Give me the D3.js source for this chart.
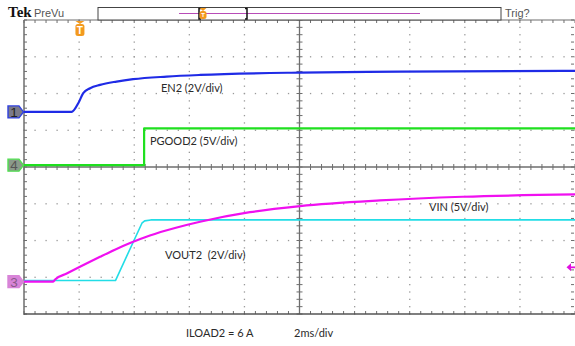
<!DOCTYPE html>
<html><head><meta charset="utf-8">
<script src="https://cdn.jsdelivr.net/npm/d3@7"></script>
<style>body{margin:0;background:#fff}svg{display:block}</style>
</head><body><svg id="c" width="575" height="346"></svg>
<script>
// ---- data (time in ms, 2 ms/div; values in volts) ----
const en2Time  = [0, 1.73, 1.97, 2.15, 2.40, 2.76, 3.36, 3.96, 5.18, 6.39, 10.02, 13.65, 20];
const en2Volts = [0, 0, 0.47, 1.02, 1.29, 1.47, 1.65, 1.78, 1.92, 2.01, 2.14, 2.19, 2.23];
const pgoodTime  = [0, 4.36, 4.36, 20];
const pgoodVolts = [0, 0, 5.0, 5.0];
const vinTime  = [0, 1.06, 1.13, 1.55, 2.03, 2.76, 3.30, 3.85, 4.57, 5.48, 6.39, 8.20, 10.02, 12.92, 15.93, 20];
const vinVolts = [0, 0, 0.30, 1.10, 2.02, 3.38, 4.35, 5.25, 6.28, 7.30, 8.15, 9.45, 10.28, 11.05, 11.55, 11.87];
const voutTime  = [0, 3.32, 4.28, 4.38, 4.60, 20];
const voutVolts = [0, 0, 3.12, 3.25, 3.30, 3.30];
const labels = ["EN2 (2V/div)", "PGOOD2 (5V/div)", "VIN (5V/div)", "VOUT2  (2V/div)"];
const footer = ["ILOAD2 = 6 A", "2ms/div"];

// channel settings: volts/div and ground offset in divisions
const ch = {
  en2:   {vdiv: 2, off: 1.50,  color: "#1f2be6"},
  pgood: {vdiv: 5, off: 0.05,  color: "#1fe01f"},
  vin:   {vdiv: 5, off: -3.12, color: "#f010f0"},
  vout:  {vdiv: 2, off: -3.09, color: "#22dde6"}
};

const svg = d3.select("#c");
const L = 24, R = 575, T = 20, B = 314;
const x = d3.scaleLinear().domain([0, 20]).range([L, R]);
const y = d3.scaleLinear().domain([-4, 4]).range([B, T]);
const grid = "#999", axisC = "#6e6e6e";

// ---- dotted grid ----
const g = svg.append("g");
const minorX = d3.range(0, 20.001, 0.4), minorY = d3.range(-4, 4.001, 0.2);
for (let d = 1; d <= 9; d++) {
  if (d === 5) continue;
  minorY.forEach(v => g.append("rect").attr("x", x(d*2)-0.6).attr("y", y(v)-0.6).attr("width", 1.3).attr("height", 1.3).attr("fill", grid));
}
for (let d = -3; d <= 3; d++) {
  if (d === 0) continue;
  minorX.forEach(t => g.append("rect").attr("x", x(t)-0.6).attr("y", y(d)-0.6).attr("width", 1.3).attr("height", 1.3).attr("fill", grid));
}

// ---- center axes with ticks ----
g.append("line").attr("x1", x(10)).attr("x2", x(10)).attr("y1", T).attr("y2", B).attr("stroke", axisC).attr("stroke-width", 1.3);
g.append("line").attr("x1", L).attr("x2", R).attr("y1", y(0)).attr("y2", y(0)).attr("stroke", axisC).attr("stroke-width", 1.3);
minorY.forEach(v => g.append("line").attr("x1", x(10)-3).attr("x2", x(10)+3).attr("y1", y(v)).attr("y2", y(v)).attr("stroke", axisC).attr("stroke-width", 1));
minorX.forEach(t => g.append("line").attr("x1", x(t)).attr("x2", x(t)).attr("y1", y(0)-3).attr("y2", y(0)+3).attr("stroke", axisC).attr("stroke-width", 1));
// edge ticks
minorY.forEach(v => {
  g.append("line").attr("x1", L).attr("x2", L+3).attr("y1", y(v)).attr("y2", y(v)).attr("stroke", axisC);
  g.append("line").attr("x1", R-4).attr("x2", R-1).attr("y1", y(v)).attr("y2", y(v)).attr("stroke", axisC);
});
minorX.forEach(t => {
  g.append("line").attr("x1", x(t)).attr("x2", x(t)).attr("y1", B-3).attr("y2", B).attr("stroke", axisC);
  g.append("line").attr("x1", x(t)).attr("x2", x(t)).attr("y1", T).attr("y2", T+3).attr("stroke", axisC);
});
// frame
g.append("line").attr("x1", L).attr("x2", L).attr("y1", T).attr("y2", B+1).attr("stroke", axisC).attr("stroke-width", 1.5);
g.append("line").attr("x1", L).attr("x2", R).attr("y1", B).attr("y2", B).attr("stroke", "#555").attr("stroke-width", 1.5);
g.append("line").attr("x1", L).attr("x2", R).attr("y1", T).attr("y2", T).attr("stroke", axisC).attr("stroke-width", 1.2);

// ---- traces ----
function trace(times, volts, c, curve, w) {
  const pts = times.map((t, i) => [x(t), y(volts[i] / c.vdiv + c.off)]);
  svg.append("path").attr("d", d3.line().curve(curve)(pts)).attr("fill", "none")
    .attr("stroke", c.color).attr("stroke-width", w).attr("stroke-linejoin", "round");
}
trace(pgoodTime, pgoodVolts, ch.pgood, d3.curveLinear, 2.2);
trace(en2Time, en2Volts, ch.en2, d3.curveMonotoneX, 2.2);
trace(voutTime, voutVolts, ch.vout, d3.curveLinear, 1.6);
trace(vinTime, vinVolts, ch.vin, d3.curveMonotoneX, 2.2);

// ---- channel markers ----
function marker(num, off, fill, stroke, txt) {
  const yc = y(off);
  svg.append("path").attr("d", `M8,${yc-6}H19L23.5,${yc}L19,${yc+6}H8Z`).attr("fill", fill).attr("stroke", stroke).attr("stroke-width", 1.4);
  svg.append("text").attr("x", 14).attr("y", yc+5).attr("text-anchor", "middle").attr("font-family", "Liberation Sans, Arial").attr("font-size", 13.5).attr("fill", txt).text(num);
}
marker("1", ch.en2.off, "#7a7a8a", "#3040e0", "#222");
marker("4", ch.pgood.off, "#8a9a8a", "#50e050", "#555");
marker("3", ch.vin.off, "#d884d8", "#d884d8", "#8a5a8a");

// right-side magenta arrow
const ay = y(-2.73);
svg.append("path").attr("d", `M566.5,${ay}L571,${ay-4}V${ay+4}Z`).attr("fill", "#e010e0");
svg.append("line").attr("x1", 569).attr("x2", 575).attr("y1", ay).attr("y2", ay).attr("stroke", "#e010e0").attr("stroke-width", 1.8);

// ---- trigger marker (orange T) ----
function tMark(cx, top, h, w) {
  svg.append("path").attr("d", `M${cx-w/2},${top}H${cx+w/2}L${cx},${top+3}Z`).attr("fill", "#f39a1e");
  svg.append("rect").attr("x", cx-w/2).attr("y", top+3).attr("width", w).attr("height", h).attr("rx", 2.5).attr("fill", "#f39a1e");
  svg.append("text").attr("x", cx).attr("y", top+3+h-2.5).attr("text-anchor", "middle").attr("font-family", "Liberation Sans, Arial").attr("font-weight", "bold").attr("font-size", h-2).attr("fill", "#fff").text("T");
}
tMark(x(2.03), 21, 12, 9);

// ---- header ----
svg.append("rect").attr("x", 98).attr("y", 7.5).attr("width", 403).attr("height", 12.5).attr("fill", "#fff").attr("stroke", "#444").attr("stroke-width", 1);
svg.append("line").attr("x1", 179).attr("x2", 420).attr("y1", 13.5).attr("y2", 13.5).attr("stroke", "#b84cb8").attr("stroke-width", 1);
svg.append("path").attr("d", "M201,8.5H199V19H201 M245,8.5H247V19H245").attr("fill", "none").attr("stroke", "#111").attr("stroke-width", 1.5);
tMark(203, 8, 8, 7);
svg.append("text").attr("x", 8).attr("y", 17).attr("font-family", "Liberation Serif, serif").attr("font-weight", "bold").attr("font-size", 15).attr("fill", "#111").text("Tek");
svg.append("text").attr("x", 34).attr("y", 17).attr("font-family", "Liberation Sans Narrow, Liberation Sans, Arial").attr("font-size", 11).attr("fill", "#555").text("PreVu");
svg.append("text").attr("x", 505).attr("y", 17).attr("font-family", "Liberation Sans Narrow, Liberation Sans, Arial").attr("font-size", 11).attr("fill", "#555").text("Trig?");

// ---- annotations ----
const font = "Lato, Open Sans, sans-serif";
const lab = [[labels[0], 4.97, 2.03], [labels[1], 4.57, 0.60], [labels[2], 14.7, -1.20], [labels[3], 5.12, -2.50]];
lab.forEach(([s, t, d]) => svg.append("text").attr("x", x(t)).attr("y", y(d)).attr("font-family", font).attr("font-size", 11).attr("fill", "#2a2a2a").style("white-space", "pre").text(s));
svg.append("text").attr("x", 186).attr("y", 337).attr("font-family", font).attr("font-size", 11).attr("fill", "#2a2a2a").text(footer[0]);
svg.append("text").attr("x", 294).attr("y", 337).attr("font-family", font).attr("font-size", 11).attr("fill", "#2a2a2a").text(footer[1]);
</script></body></html>
